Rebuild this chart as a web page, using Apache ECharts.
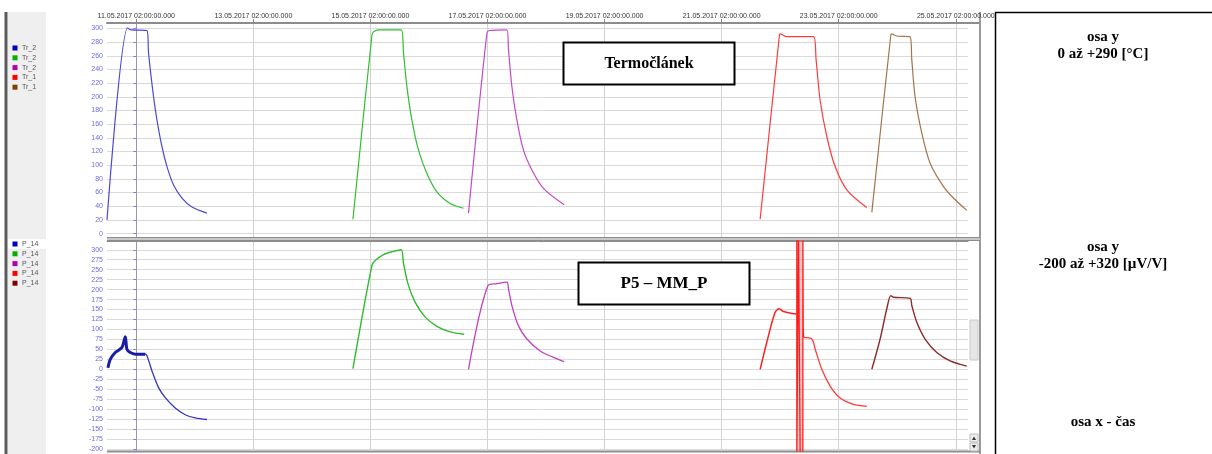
<!DOCTYPE html>
<html><head><meta charset="utf-8">
<script src="https://cdn.jsdelivr.net/npm/echarts@6/dist/echarts.min.js"></script>
<style>html,body{margin:0;padding:0;background:#fff}#c{width:1212px;height:454px}</style>
</head><body><div id="c"></div>
<script>
// x values: hours since 11.05.2017 02:00
const xTickHours = [0, 48, 96, 144, 192, 240, 288, 336];
const xTickLabels = ['11.05.2017 02:00:00.000', '13.05.2017 02:00:00.000', '15.05.2017 02:00:00.000',
  '17.05.2017 02:00:00.000', '19.05.2017 02:00:00.000', '21.05.2017 02:00:00.000',
  '23.05.2017 02:00:00.000', '25.05.2017 02:00:00.000'];
const tempTicks = [0, 20, 40, 60, 80, 100, 120, 140, 160, 180, 200, 220, 240, 260, 280, 300];
const strainTicks = [-200, -175, -150, -125, -100, -75, -50, -25, 0, 25, 50, 75, 100, 125, 150, 175, 200, 225, 250, 275, 300];
const legendTopNames = ['Tr_2', 'Tr_2', 'Tr_2', 'Tr_1', 'Tr_1'];
const legendTopColors = ['#0000c0', '#00b000', '#b000b0', '#ff0000', '#804000'];
const legendBottomNames = ['P_14', 'P_14', 'P_14', 'P_14', 'P_14'];
const legendBottomColors = ['#0000c0', '#00b000', '#b000b0', '#ff0000', '#800000'];
const boxTop = 'Termočlánek';
const boxBottom = 'P5 – MM_P';
const sideTexts = ['osa y', '0 až +290 [°C]', 'osa y', '-200 až +320 [µV/V]', 'osa x - čas'];

// Top panel: thermocouple temperature [°C]
const trBlue = [[-12.0,20],[-3.57,301],[-2.87,299],[-2.05,298],[4.39,297],[5.04,264],[7.09,200],[8.49,166],[10.54,127],[12.59,98],[15.29,71],[18.73,52],[22.83,39],[28.98,30]];
const trGreen = [[88.83,21],[96.61,290],[97.27,295],[99.32,298],[108.62,298],[109.57,264],[110.96,215],[113.01,166],[115.71,122],[119.16,88],[123.26,61],[128.71,44],[134.16,37]];
const trMagenta = [[136.21,30],[143.75,293],[144.82,297],[151.95,298],[152.61,269],[154.0,215],[156.05,166],[158.76,122],[162.2,93],[166.95,66],[175.44,42]];
const trRed = [[255.78,21],[263.69,290],[263.98,292],[266.72,288],[277.63,288],[278.73,254],[280.37,195],[283.12,142],[286.52,98],[291.31,64],[299.51,38]];
const trBrown = [[301.57,31],[309.35,290],[309.76,292],[311.81,289],[317.27,288],[317.96,254],[319.31,200],[322.06,147],[325.46,103],[330.91,69],[335.01,52],[340.5,34]];

// Bottom panel: P5 - MM_P [µV/V]
const pBlue = [[-11.6,4],[-10.66,25],[-8.61,42],[-5.86,55],[-4.51,82],[-3.81,50],[-2.46,42],[-0.41,38],[3.69,38],[4.39,34],[6.44,-4],[9.14,-46],[11.89,-71],[15.99,-97],[20.08,-114],[24.18,-122],[28.98,-126]];
const pGreen = [[88.83,2],[96.61,261],[97.97,273],[101.37,288],[105.47,296],[108.62,300],[109.57,265],[111.62,210],[114.36,168],[118.46,131],[123.26,108],[128.71,94],[134.45,88]];
const pMagenta = [[136.21,0],[144.16,210],[147.85,215],[151.95,219],[152.61,202],[154.0,160],[156.71,109],[160.15,76],[165.6,46],[171.05,30],[175.44,19]];
const pRedBefore = [[255.78,0],[259.18,84],[261.93,143],[263.57,152],[265.33,145],[270.7,139],[270.82,139]];
const pRedSpike = [[270.82,139],[270.82,340],[270.82,-220],[271.5,-220],[271.5,340],[272.2,340],[272.2,-220],[273.3,-220],[273.3,340],[273.45,105],[273.6,80]];
const pRedAfter = [[273.6,80],[276.97,76],[278.32,51],[281.07,0],[284.47,-42],[288.57,-72],[294.02,-88],[299.51,-93]];
const pRedSpikeBand = [270.82, 273.3];
const pBrown = [[301.57,0],[304.97,76],[307.71,152],[309.35,185],[310.42,181],[317.27,178],[317.96,160],[320.01,118],[323.41,76],[328.21,42],[333.66,21],[340.5,8]];

const chart = echarts.init(document.getElementById('c'), null, {renderer: 'canvas'});
const axisFont = 'Liberation Sans, Arial, sans-serif';
const grids = [
  {left: 107, top: 23, width: 861, height: 214},
  {left: 107, top: 241, width: 861, height: 210}
];
function xAx(gi, showLabels) {
  return {
    type: 'value', gridIndex: gi, min: -12, max: 341, position: 'top',
    axisLine: {show: true, onZero: false, lineStyle: {color: '#8c8c8c', width: gi === 0 ? 2 : 1}},
    axisTick: {show: showLabels, length: 4, customValues: xTickHours, lineStyle: {color: '#888'}},
    axisLabel: {show: showLabels, customValues: xTickHours, margin: 3, fontSize: 7, color: '#333', fontFamily: axisFont,
      formatter: v => xTickLabels[xTickHours.indexOf(v)] || ''},
    splitLine: {show: true, lineStyle: {color: '#d2d2d2', width: 1}}
  };
}
function yAx(gi, min, max, ticks) {
  return {
    type: 'value', gridIndex: gi, min: min, max: max,
    axisLine: {show: true, lineStyle: {color: '#9a9a9a'}},
    axisTick: {show: true, length: 3, customValues: ticks, lineStyle: {color: '#8080e0'}},
    axisLabel: {customValues: ticks, margin: 4, fontSize: 7, color: '#6c6ce0', fontFamily: axisFont},
    splitLine: {show: true, lineStyle: {color: '#dadada', width: 1}}
  };
}
function line(data, color, gi, width, smooth) {
  return {type: 'line', data: data, xAxisIndex: gi, yAxisIndex: gi, showSymbol: false, symbol: 'none',
    smooth: smooth === undefined ? 0.3 : smooth,
    lineStyle: {color: color, width: width || 1.2}, clip: true, animation: false};
}
const graphics = [];
// left legend panel
graphics.push({type: 'rect', shape: {x: 8, y: 12, width: 38, height: 442}, style: {fill: '#efefef'}, silent: true});
graphics.push({type: 'rect', shape: {x: 4.5, y: 12, width: 3, height: 442}, style: {fill: '#5a5a5a'}, silent: true});
graphics.push({type: 'rect', shape: {x: 8, y: 239, width: 38, height: 10}, style: {fill: '#ffffff'}, silent: true});
legendTopNames.forEach((n, i) => {
  graphics.push({type: 'rect', shape: {x: 12.5, y: 45.5 + i * 9.8, width: 5, height: 5}, style: {fill: legendTopColors[i]}});
  graphics.push({type: 'text', x: 22, y: 48 + i * 9.8, style: {text: n, fontSize: 7, fill: '#555', fontFamily: axisFont, verticalAlign: 'middle'}});
});
legendBottomNames.forEach((n, i) => {
  graphics.push({type: 'rect', shape: {x: 12.5, y: 241.5 + i * 9.8, width: 5, height: 5}, style: {fill: legendBottomColors[i]}});
  graphics.push({type: 'text', x: 22, y: 244 + i * 9.8, style: {text: n, fontSize: 7, fill: '#555', fontFamily: axisFont, verticalAlign: 'middle'}});
});
// frame at right of plots and separator
graphics.push({type: 'line', shape: {x1: 968, y1: 23, x2: 980, y2: 23}, style: {stroke: '#8c8c8c', lineWidth: 2}});
graphics.push({type: 'line', shape: {x1: 980, y1: 12, x2: 980, y2: 454}, style: {stroke: '#9a9a9a', lineWidth: 2}});
graphics.push({type: 'rect', shape: {x: 107, y: 237, width: 873, height: 4}, style: {fill: '#c8c8c8'}});
graphics.push({type: 'line', shape: {x1: 107, y1: 237.5, x2: 980, y2: 237.5}, style: {stroke: '#8c8c8c', lineWidth: 1}});
graphics.push({type: 'line', shape: {x1: 107, y1: 240.5, x2: 980, y2: 240.5}, style: {stroke: '#8c8c8c', lineWidth: 1}});
graphics.push({type: 'line', shape: {x1: 107, y1: 451.5, x2: 980, y2: 451.5}, style: {stroke: '#8c8c8c', lineWidth: 2}});
// scrollbar hints
graphics.push({type: 'rect', shape: {x: 970, y: 320, width: 8, height: 40}, style: {fill: '#e6e6e6', stroke: '#c8c8c8', lineWidth: 1}});
graphics.push({type: 'rect', shape: {x: 970, y: 434, width: 8, height: 8}, style: {fill: '#eeeeee', stroke: '#bbb', lineWidth: 1}});
graphics.push({type: 'rect', shape: {x: 970, y: 443, width: 8, height: 8}, style: {fill: '#eeeeee', stroke: '#bbb', lineWidth: 1}});
graphics.push({type: 'polygon', shape: {points: [[972, 440], [976, 440], [974, 436.5]]}, style: {fill: '#333'}});
graphics.push({type: 'polygon', shape: {points: [[972, 445], [976, 445], [974, 448.5]]}, style: {fill: '#333'}});
// annotation boxes
graphics.push({type: 'rect', shape: {x: 563.5, y: 42.5, width: 171, height: 42}, style: {fill: '#fff', stroke: '#000', lineWidth: 2}, z: 10});
graphics.push({type: 'text', x: 649, y: 64, z: 11, style: {text: boxTop, fontSize: 16, fontWeight: 'bold', fontFamily: 'Liberation Serif, Times New Roman, serif', fill: '#000', align: 'center', verticalAlign: 'middle'}});
graphics.push({type: 'rect', shape: {x: 578.5, y: 262.5, width: 171, height: 42}, style: {fill: '#fff', stroke: '#000', lineWidth: 2}, z: 10});
graphics.push({type: 'text', x: 664, y: 284, z: 11, style: {text: boxBottom, fontSize: 17, fontWeight: 'bold', fontFamily: 'Liberation Serif, Times New Roman, serif', fill: '#000', align: 'center', verticalAlign: 'middle'}});
// right description box
graphics.push({type: 'rect', shape: {x: 995.5, y: 12.5, width: 240, height: 460}, style: {fill: '#fff', stroke: '#000', lineWidth: 1.5}});
const sideY = [37, 54, 247, 264, 422];
sideTexts.forEach((t, i) => {
  graphics.push({type: 'text', x: 1103, y: sideY[i], style: {text: t, fontSize: 15, fontWeight: 'bold', fontFamily: 'Liberation Serif, Times New Roman, serif', fill: '#000', align: 'center', verticalAlign: 'middle'}});
});

const redSpike = line(pRedSpike, '#ff1e1e', 1, 1.3, false);
redSpike.markArea = {silent: true, itemStyle: {color: 'rgba(255,80,80,0.32)'},
  data: [[{xAxis: pRedSpikeBand[0]}, {xAxis: pRedSpikeBand[1]}]]};

chart.setOption({
  animation: false,
  backgroundColor: '#ffffff',
  grid: grids,
  xAxis: [xAx(0, true), xAx(1, false)],
  yAxis: [yAx(0, -5, 308, tempTicks), yAx(1, -205, 322, strainTicks)],
  series: [
    line(trBlue, '#4a4ad8', 0), line(trGreen, '#2fbf2f', 0), line(trMagenta, '#c448c8', 0),
    line(trRed, '#ff3a3a', 0), line(trBrown, '#a4744a', 0),
    line(pBlue, '#3434c4', 1, 1.3), line(pBlue.slice(0, 9), '#1a1aa8', 1, 3),
    line(pGreen, '#2ebc2e', 1, 1.4), line(pMagenta, '#c040c0', 1, 1.3),
    line(pRedBefore, '#ff1e1e', 1, 1.5), redSpike, line(pRedAfter, '#ff3a3a', 1, 1.3),
    line(pBrown, '#8e2a2a', 1, 1.4)
  ],
  graphic: {elements: graphics}
});
</script></body></html>
